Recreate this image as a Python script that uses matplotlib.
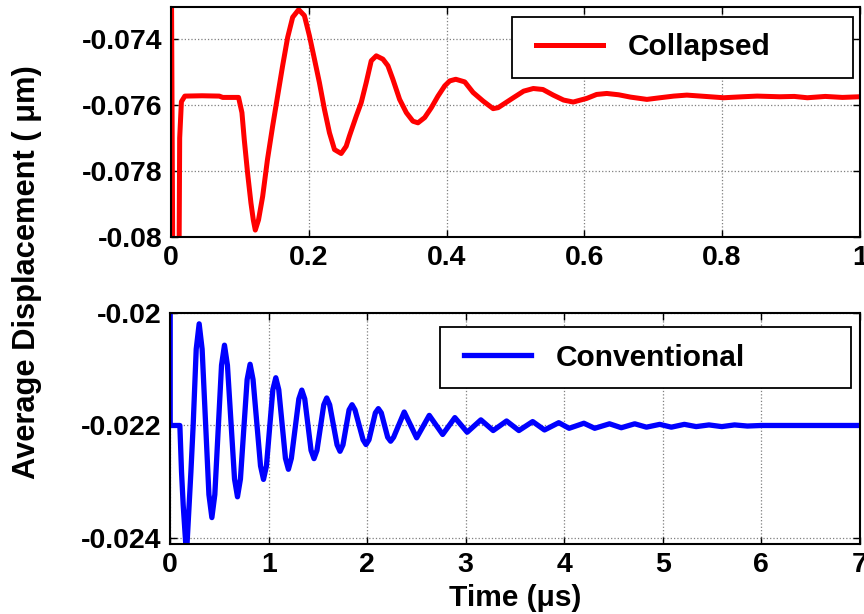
import numpy as np
import matplotlib.pyplot as plt
from matplotlib.legend_handler import HandlerLine2D

plt.rcParams['font.family'] = ['Liberation Sans', 'DejaVu Sans']
plt.rcParams['font.weight'] = 'bold'

# collapsed mode response (time in us, displacement in um)
t_col = [0.0, 0.003, 0.011, 0.0125, 0.015, 0.02, 0.045, 0.07, 0.075, 0.098,
         0.1029, 0.1063, 0.1111, 0.116, 0.1194, 0.1223, 0.127, 0.133, 0.140, 0.1475,
         0.1547, 0.162, 0.1693, 0.1766, 0.1853, 0.1936, 0.2009, 0.2082, 0.2154, 0.2227,
         0.230, 0.2373, 0.247, 0.2543, 0.259, 0.2689, 0.2761, 0.2834, 0.2907, 0.298,
         0.3076, 0.3149, 0.3221, 0.3319, 0.3416, 0.3512, 0.3585, 0.3683, 0.378, 0.3876,
         0.3974, 0.4047, 0.4134, 0.4265, 0.4386, 0.4531, 0.4677, 0.475, 0.497, 0.512,
         0.526, 0.54, 0.555, 0.57, 0.584, 0.6036, 0.618, 0.6327, 0.65, 0.667,
         0.691, 0.71, 0.73, 0.749, 0.776, 0.8025, 0.83, 0.851, 0.884, 0.905,
         0.924, 0.95, 0.975, 1.0]
d_col = [-0.0700, -0.0830, -0.0830, -0.0770, -0.0759, -0.07573, -0.07572, -0.07573, -0.07577, -0.07577,
         -0.07623, -0.07705, -0.07806, -0.07897, -0.07948, -0.07979, -0.07948, -0.07877, -0.07765, -0.07664,
         -0.07573, -0.07481, -0.07395, -0.07334, -0.07311, -0.07329, -0.0739, -0.07461, -0.07532, -0.07613,
         -0.07684, -0.07735, -0.07747, -0.07725, -0.07694, -0.07634, -0.07593, -0.07532, -0.07466, -0.07451,
         -0.07461, -0.07481, -0.07522, -0.07583, -0.07623, -0.07649, -0.07654, -0.07638, -0.07608, -0.07573,
         -0.07542, -0.07527, -0.07522, -0.0753, -0.07562, -0.07588, -0.07611, -0.07608, -0.07578, -0.07558,
         -0.0755, -0.07553, -0.0757, -0.07585, -0.07591, -0.0758, -0.07568, -0.07565, -0.07569, -0.07576,
         -0.07583, -0.07578, -0.07573, -0.0757, -0.07574, -0.07578, -0.07575, -0.07573, -0.07575, -0.07574,
         -0.07578, -0.07574, -0.07577, -0.07575]

# conventional mode response
t_con = [0.0, 0.0, 0.098, 0.115, 0.132, 0.165, 0.21, 0.233, 0.264, 0.294,
         0.324, 0.393, 0.423, 0.453, 0.521, 0.551, 0.581, 0.653, 0.683, 0.713,
         0.781, 0.811, 0.841, 0.917, 0.947, 0.977, 1.042, 1.072, 1.102, 1.170,
         1.200, 1.230, 1.306, 1.336, 1.366, 1.430, 1.460, 1.490, 1.559, 1.589,
         1.619, 1.694, 1.724, 1.754, 1.816, 1.846, 1.876, 1.958, 1.988, 2.018,
         2.083, 2.113, 2.143, 2.208, 2.238, 2.268, 2.376, 2.502, 2.630, 2.766,
         2.890, 3.015, 3.154, 3.279, 3.415, 3.540, 3.680, 3.800, 3.945, 4.050,
         4.200, 4.310, 4.460, 4.580, 4.716, 4.835, 4.970, 5.088, 5.220, 5.340,
         5.47, 5.60, 5.73, 5.86, 6.0, 6.4, 7.0]
d_con = [-0.0200, -0.0220, -0.0220, -0.02283, -0.02342, -0.0243, -0.02283, -0.0220, -0.020642, -0.02019,
         -0.020642, -0.02323, -0.02364, -0.02323, -0.020927, -0.02057, -0.020927, -0.022953, -0.02327, -0.022953,
         -0.021182, -0.02091, -0.021182, -0.02272, -0.02296, -0.02272, -0.021362, -0.02115, -0.021362, -0.022585,
         -0.02278, -0.022585, -0.021527, -0.02137, -0.021527, -0.022443, -0.02259, -0.022443, -0.021632, -0.02151,
         -0.021632, -0.022345, -0.02246, -0.022345, -0.021722, -0.02163, -0.021722, -0.022255, -0.02234, -0.022255,
         -0.021775, -0.02170, -0.021775, -0.02221, -0.02228, -0.02221, -0.02176, -0.02222, -0.02182, -0.02216,
         -0.02186, -0.02212, -0.02190, -0.02209, -0.02192, -0.02209, -0.02193, -0.02208, -0.02195, -0.02205,
         -0.02196, -0.02205, -0.02197, -0.02204, -0.02197, -0.02203, -0.02198, -0.02203, -0.02198, -0.02202,
         -0.02199, -0.02202, -0.02199, -0.02201, -0.0220, -0.0220, -0.0220]

top_xticks = [0, 0.2, 0.4, 0.6, 0.8, 1]
top_xlabels = ['0', '0.2', '0.4', '0.6', '0.8', '1']
top_yticks = [-0.08, -0.078, -0.076, -0.074]
top_ylabels = ['-0.08', '-0.078', '-0.076', '-0.074']
bot_xticks = [0, 1, 2, 3, 4, 5, 6, 7]
bot_xlabels = ['0', '1', '2', '3', '4', '5', '6', '7']
bot_yticks = [-0.024, -0.022, -0.02]
bot_ylabels = ['-0.024', '-0.022', '-0.02']

fig = plt.figure(figsize=(8.64, 6.14), dpi=100)
ax1 = fig.add_axes([0.198, 0.614, 0.797, 0.3746])
ax2 = fig.add_axes([0.197, 0.114, 0.798, 0.376])


def style(ax, xt, xl, yt, yl):
    ax.set_xticks(xt)
    ax.set_xticklabels(xl)
    ax.set_yticks(yt)
    ax.set_yticklabels(yl)
    ax.tick_params(direction='in', top=True, right=True, length=5, width=1,
                   labelsize=20.5, pad=6)
    for lab in ax.get_xticklabels() + ax.get_yticklabels():
        lab.set_fontweight('bold')
    ax.grid(True, color='#7f7f7f', linestyle=':', linewidth=0.9)
    for s in ax.spines.values():
        s.set_linewidth(1.5)


ax1.plot(t_col, d_col, color='red', linewidth=3.6, label='Collapsed',
         solid_joinstyle='round')
ax1.set_xlim(0, 1)
ax1.set_ylim(-0.08, -0.07303)
style(ax1, top_xticks, top_xlabels, top_yticks, top_ylabels)

ax2.plot(t_con, d_con, color='blue', linewidth=3.8, label='Conventional',
         solid_joinstyle='round')
ax2.set_xlim(0, 7)
ax2.set_ylim(-0.02411, -0.02)
style(ax2, bot_xticks, bot_xlabels, bot_yticks, bot_ylabels)

# legend box: wide frame, handle inset from the left edge
leg_kw = dict(loc='upper left', mode='expand', borderaxespad=0, fancybox=False,
              framealpha=1, edgecolor='black', handlelength=2.49,
              handletextpad=0.84, borderpad=0.55,
              prop={'size': 21.5, 'weight': 'bold'},
              handler_map={plt.Line2D: HandlerLine2D(xpad=0.27)})
lg1 = ax1.legend(bbox_to_anchor=(0.495, 0.696, 0.495, 0.261), **leg_kw)
lg2 = ax2.legend(bbox_to_anchor=(0.391, 0.693, 0.596, 0.246), **leg_kw)
for lg in (lg1, lg2):
    lg.get_frame().set_linewidth(1.3)

ax2.set_xlabel('Time (\u03bcs)', fontsize=21.5, fontweight='bold', labelpad=4)
fig.text(0.031, 0.557, 'Average Displacement ( \u03bcm)', rotation=90,
         fontsize=22.2, fontweight='bold', ha='center', va='center')

fig.savefig('out.png', dpi=100)
